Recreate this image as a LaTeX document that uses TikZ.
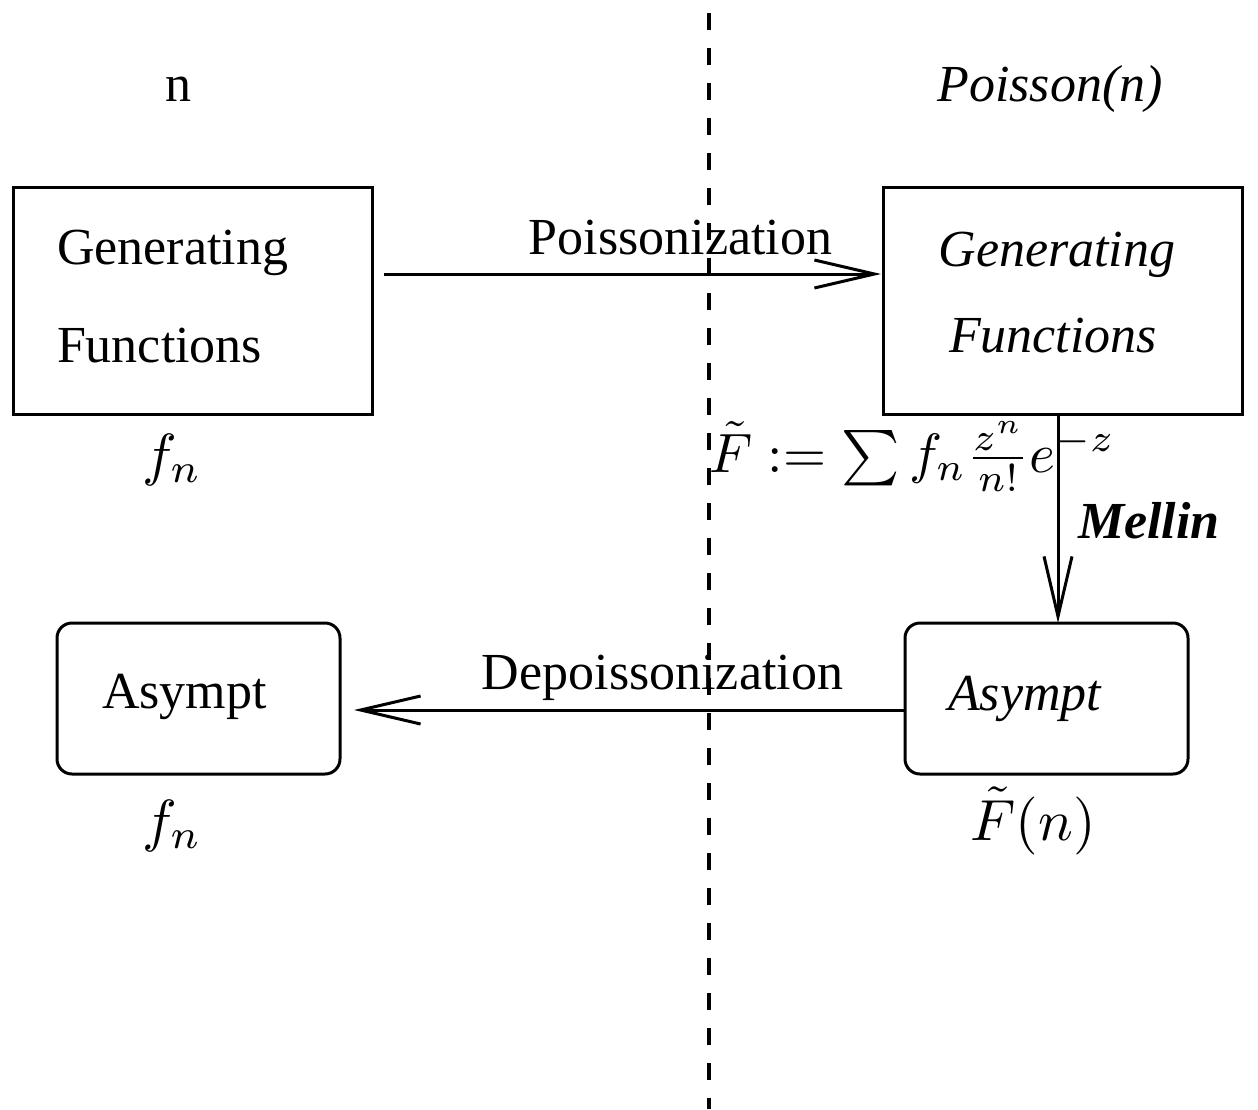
\RequirePackage{fix-cm}
\documentclass[tikz,border=0pt]{standalone}
\usepackage{fontspec}
\setmainfont{Liberation Serif}
\usetikzlibrary{arrows.meta}
\begin{document}
\begin{tikzpicture}[x=1pt,y=-1pt,
  every node/.style={inner sep=0pt,outer sep=0pt,font=\fontsize{52}{60}\selectfont},
  mth/.style={font=\fontsize{10}{12}\selectfont,scale=5.8,transform shape},
  sqbox/.style={draw,line width=3pt,minimum width=359pt,minimum height=227pt},
  rbox/.style={draw,line width=3pt,rounded corners=15pt,minimum width=283pt,minimum height=151pt},
  arr/.style={line width=3pt,-{Straight Barb[length=60pt,width=28pt,line width=3pt]}},
  sep/.style={line width=3.5pt,dash pattern=on 17pt off 18pt}]
\useasboundingbox (0,0) rectangle (1258,1109);
\coordinate (top) at (709,13);
\coordinate (bot) at (709,1109);
\draw[sep] (top) -- (bot);
\node[anchor=base] (hn) at (178,101) {n};
\node[anchor=base] (hp) at (1050,101) {\itshape Poisson(n)};
\node[sqbox] (A) at (192.5,300.5) {};
\node[sqbox] (B) at (1062.5,300.5) {};
\node[rbox] (C) at (198.5,698.5) {};
\node[rbox] (D) at (1046.5,698.5) {};
\node[anchor=base west] (a1) at (57,264) {Generating};
\node[anchor=base west] (a2) at (57,362) {Functions};
\node[anchor=base] (b1) at (1057,266) {\itshape Generating};
\node[anchor=base] (b2) at (1053,352) {\itshape Functions};
\node[anchor=base west] (c1) at (102,708) {Asympt};
\node[anchor=base west] (d1) at (948,710) {\itshape Asympt};
\node[mth,anchor=base] (fa) at (172,474) {$f_n$};
\node[mth,anchor=base] (fc) at (172,840) {$f_n$};
\node[mth,anchor=base] (fd) at (1033,840) {$\tilde F(n)$};
\node[mth,scale=0.955,anchor=base west] (frm) at (709,472) {$\tilde F := \sum f_n \frac{z^n}{n!} e^{-z}$};
\draw[arr] ([shift={(12,-26.5)}]A.east) -- node[anchor=base,xshift=48pt,yshift=20pt] (lp) {Poissonization} ([shift={(-2,-26.5)}]B.west);
\draw[arr] ([xshift=-4.5pt]B.south) -- ([xshift=-4.5pt]B.south |- D.north) node[pos=0.5,anchor=base west,xshift=20pt,yshift=-20pt] (lm) {\bfseries\itshape Mellin};
\draw[arr] ([yshift=-11.5pt]D.west) -- node[anchor=base,xshift=33pt,yshift=21pt] (ld) {Depoissonization} ([shift={(14,11.5)}]C.east);
\end{tikzpicture}
\end{document}
